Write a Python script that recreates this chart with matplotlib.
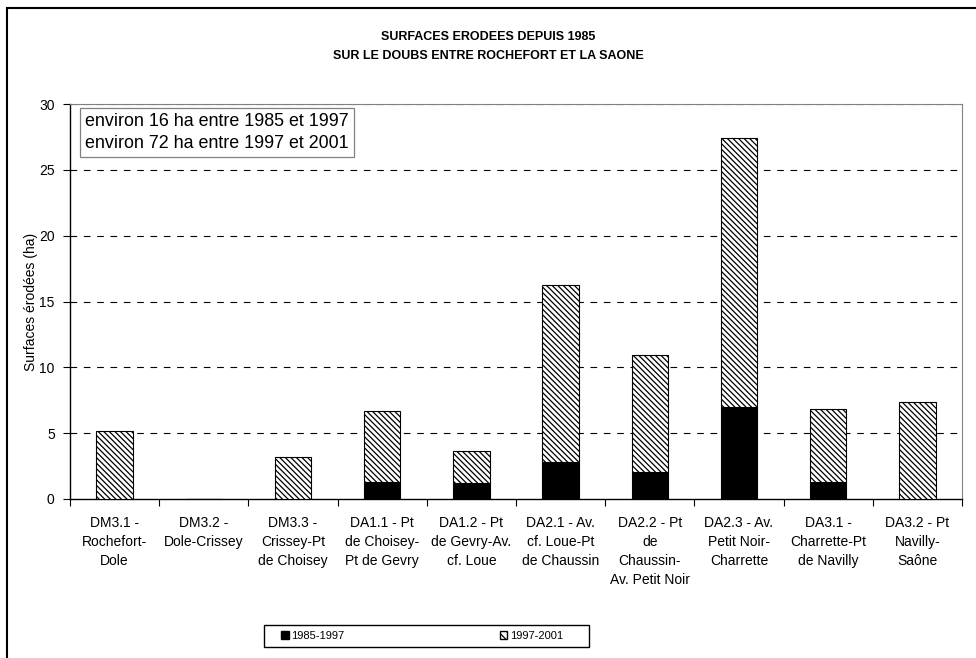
import matplotlib
matplotlib.use("Agg")
import matplotlib.pyplot as plt
from matplotlib.patches import Rectangle, Patch
import numpy as np

plt.rcParams['font.family'] = ['Liberation Sans', 'DejaVu Sans']
plt.rcParams['hatch.linewidth'] = 0.9

categories = [
    "DM3.1 -\nRochefort-\nDole",
    "DM3.2 -\nDole-Crissey",
    "DM3.3 -\nCrissey-Pt\nde Choisey",
    "DA1.1 - Pt\nde Choisey-\nPt de Gevry",
    "DA1.2 - Pt\nde Gevry-Av.\ncf. Loue",
    "DA2.1 - Av.\ncf. Loue-Pt\nde Chaussin",
    "DA2.2 - Pt\nde\nChaussin-\nAv. Petit Noir",
    "DA2.3 - Av.\nPetit Noir-\nCharrette",
    "DA3.1 -\nCharrette-Pt\nde Navilly",
    "DA3.2 - Pt\nNavilly-\nSaône",
]
period_1985_1997 = [0.0, 0.0, 0.0, 1.3, 1.25, 2.8, 2.05, 7.0, 1.3, 0.0]
period_1997_2001 = [5.2, 0.0, 3.2, 5.4, 2.4, 13.45, 8.9, 20.45, 5.5, 7.4]
yticks = [0, 5, 10, 15, 20, 25, 30]

fig = plt.figure(figsize=(9.76, 6.58), dpi=100)
ax = fig.add_axes([70 / 976, 1 - 499 / 658, 892 / 976, 395 / 658])

x = np.arange(len(categories))
width = 0.41
ax.bar(x, period_1985_1997, width, color='black', edgecolor='black',
       linewidth=0.8, zorder=3)
ax.bar(x, period_1997_2001, width, bottom=period_1985_1997, color='white',
       edgecolor='black', hatch='\\\\\\\\\\\\', linewidth=0.8, zorder=3)

ax.set_xlim(-0.5, len(categories) - 0.5)
ax.set_ylim(0, 30)
ax.set_yticks(yticks)
ax.tick_params(axis='y', direction='out', length=5, width=0.8, labelsize=10,
               pad=6)

# category boundaries as tick marks, labels at the centres
ax.set_xticks(np.arange(len(categories) + 1) - 0.5)
ax.set_xticklabels([])
ax.tick_params(axis='x', which='major', direction='out', length=5, width=0.8)
ax.set_xticks(x, minor=True)
ax.set_xticklabels(categories, minor=True, fontsize=10, linespacing=1.45,
                   va='top')
ax.tick_params(axis='x', which='minor', length=0, pad=12)

for v in yticks[1:]:
    ax.axhline(v, color='black', linestyle=(0, (6, 6)), linewidth=0.8,
               zorder=1)

for side in ('left', 'bottom'):
    ax.spines[side].set_color('black')
    ax.spines[side].set_linewidth(1.0)
for side in ('top', 'right'):
    ax.spines[side].set_color('#808080')
    ax.spines[side].set_linewidth(0.8)

ax.set_ylabel("Surfaces érodées (ha)", fontsize=10, labelpad=0.5)

ax.text(0.017, 0.978,
        "environ 16 ha entre 1985 et 1997\nenviron 72 ha entre 1997 et 2001",
        transform=ax.transAxes, ha='left', va='top', fontsize=12.9,
        linespacing=1.38, zorder=5,
        bbox=dict(boxstyle='square,pad=0.28', facecolor='white',
                  edgecolor='#808080', linewidth=0.9))

fig.text(0.5, 1 - 37 / 658, "SURFACES ERODEES DEPUIS 1985",
         ha='center', va='center', fontsize=9, fontweight='bold')
fig.text(0.5, 1 - 56 / 658, "SUR LE DOUBS ENTRE ROCHEFORT ET LA SAONE",
         ha='center', va='center', fontsize=9, fontweight='bold')

# legend frame and entries
fig.patches.append(Rectangle((264 / 976, 1 - 647 / 658), 325 / 976,
                             22 / 658, transform=fig.transFigure,
                             facecolor='white', edgecolor='black',
                             linewidth=1.0))
handles = [Patch(facecolor='black', edgecolor='black', label='1985-1997'),
           Patch(facecolor='white', edgecolor='black', hatch='\\\\\\\\',
                 label='1997-2001')]
leg = fig.legend(handles=handles, loc='center left',
                 bbox_to_anchor=(281 / 976, 1 - 636 / 658), ncol=2,
                 fontsize=8, frameon=False,
                 handlelength=0.7, handleheight=0.7, handletextpad=0.2,
                 columnspacing=14, borderpad=0, borderaxespad=0)

# outer chart frame
fig.patches.append(Rectangle((7 / 976, -0.2), 1.3, 1.2 - 8 / 658,
                             transform=fig.transFigure, fill=False,
                             edgecolor='black', linewidth=1.5))

fig.savefig("out.png", dpi=100)
